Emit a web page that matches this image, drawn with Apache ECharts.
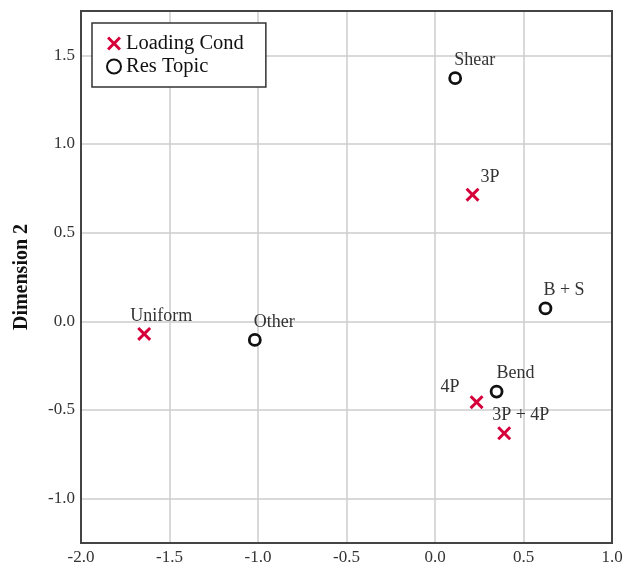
<!DOCTYPE html>
<html>
<head>
<meta charset="utf-8">
<script src="https://cdn.jsdelivr.net/npm/echarts@6/dist/echarts.min.js"></script>
<style>
html,body{margin:0;padding:0;background:#fff;}
#chart{width:630px;height:570px;}
</style>
</head>
<body>
<div id="chart"></div>
<script>
// Data
var loadingNames = ['Uniform', '3P', '4P', '3P + 4P'];
var loadingX = [-1.643, 0.212, 0.235, 0.391];
var loadingY = [-0.071, 0.714, -0.456, -0.631];

var topicNames = ['Shear', 'Other', 'B + S', 'Bend'];
var topicX = [0.114, -1.018, 0.624, 0.348];
var topicY = [1.371, -0.105, 0.073, -0.396];

var xTicks = ['-2.0', '-1.5', '-1.0', '-0.5', '0.0', '0.5', '1.0'];
var yTicks = ['-1.0', '-0.5', '0.0', '0.5', '1.0', '1.5'];

// label placement (style only)
var labelPlace = {
  'Uniform': {offset: [-14, -18], align: 'left'},
  '3P': {offset: [8, -17], align: 'left'},
  '4P': {offset: [-17, -15], align: 'right'},
  '3P + 4P': {offset: [-12, -18], align: 'left'},
  'Shear': {offset: [-1, -18], align: 'left'},
  'Other': {offset: [-1, -18], align: 'left'},
  'B + S': {offset: [-2, -18], align: 'left'},
  'Bend': {offset: [0, -18], align: 'left'}
};

function buildData(names, xs, ys) {
  return names.map(function (n, i) {
    var p = labelPlace[n];
    return {
      name: n,
      value: [xs[i], ys[i]],
      label: {offset: p.offset, align: p.align}
    };
  });
}

var FONT = '"Liberation Serif", "Times New Roman", serif';
var RED = '#d6003b';
var xPath = 'path://M1.5,0 L5,3.5 L8.5,0 L10,1.5 L6.5,5 L10,8.5 L8.5,10 L5,6.5 L1.5,10 L0,8.5 L3.5,5 L0,1.5 Z';

var labelBase = {
  show: true,
  position: 'inside',
  verticalAlign: 'middle',
  formatter: '{b}',
  fontFamily: FONT,
  fontSize: 18,
  color: '#333'
};

var chart = echarts.init(document.getElementById('chart'), null, {renderer: 'canvas'});
chart.setOption({
  animation: false,
  backgroundColor: '#fff',
  grid: {left: 81, right: 18, top: 11, bottom: 27, show: false},
  legend: {
    left: 92,
    top: 23,
    orient: 'vertical',
    backgroundColor: '#fff',
    borderColor: '#333',
    borderWidth: 1.5,
    borderRadius: 0,
    padding: [10, 22, 10, 14],
    itemGap: 2,
    itemWidth: 14,
    itemHeight: 14,
    textStyle: {fontFamily: FONT, fontSize: 20.5, color: '#111'},
    data: ['Loading Cond', 'Res Topic']
  },
  xAxis: {
    type: 'value',
    min: -2,
    max: 1,
    interval: 0.5,
    axisLine: {show: true, onZero: false, lineStyle: {color: '#444', width: 2}},
    axisTick: {show: false},
    splitLine: {show: true, lineStyle: {color: '#cccccc', width: 1.5}},
    axisLabel: {
      margin: 6,
      fontFamily: FONT, fontSize: 17, color: '#333',
      formatter: function (v) {
        var s = v.toFixed(1);
        return xTicks.indexOf(s) >= 0 ? s : '';
      }
    }
  },
  yAxis: {
    type: 'value',
    min: -1.25,
    max: 1.75,
    splitNumber: 6,
    name: 'Dimension 2',
    nameLocation: 'middle',
    nameGap: 49,
    nameTextStyle: {fontFamily: FONT, fontSize: 20, fontWeight: 'bold', color: '#111'},
    axisLine: {show: true, onZero: false, lineStyle: {color: '#444', width: 2}},
    axisTick: {show: false},
    splitLine: {show: true, lineStyle: {color: '#cccccc', width: 1.5}},
    axisLabel: {
      margin: 6,
      showMinLabel: false,
      showMaxLabel: false,
      fontFamily: FONT, fontSize: 17, color: '#333',
      formatter: function (v) {
        var s = (Math.abs(v) < 1e-9 ? 0 : v).toFixed(1);
        return (yTicks.indexOf(s) >= 0 && Math.abs(v * 2 - Math.round(v * 2)) < 1e-9) ? s : '';
      }
    }
  },
  series: [
    {
      name: 'Loading Cond',
      type: 'scatter',
      symbol: xPath,
      symbolSize: 14,
      itemStyle: {color: RED, opacity: 1},
      label: labelBase,
      data: buildData(loadingNames, loadingX, loadingY),
      z: 3
    },
    {
      name: 'Res Topic',
      type: 'scatter',
      symbol: 'circle',
      symbolSize: 11,
      itemStyle: {color: '#fff', borderColor: '#111', borderWidth: 2.8, opacity: 1},
      label: labelBase,
      data: buildData(topicNames, topicX, topicY),
      z: 3
    }
  ],
  graphic: [{
    type: 'rect',
    shape: {x: 81, y: 11, width: 531, height: 532},
    style: {fill: 'none', stroke: '#444', lineWidth: 2},
    silent: true,
    z: 10
  }]
});
</script>
</body>
</html>
